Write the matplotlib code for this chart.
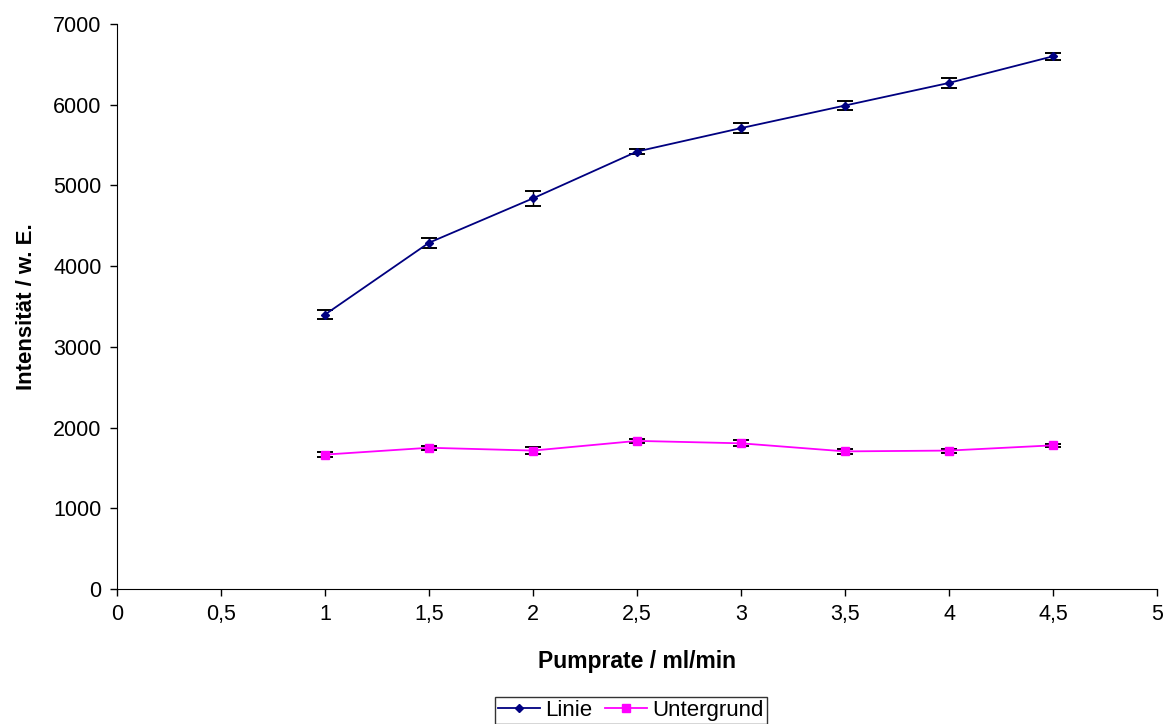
import matplotlib
matplotlib.use("Agg")
import matplotlib.pyplot as plt
from matplotlib.lines import Line2D

plt.rcParams['font.family'] = ['Liberation Sans', 'DejaVu Sans']

pumprate = [1, 1.5, 2, 2.5, 3, 3.5, 4, 4.5]
linie = [3400, 4290, 4840, 5420, 5710, 5990, 6270, 6600]
linie_err = [60, 60, 90, 30, 65, 60, 60, 40]
untergrund = [1665, 1750, 1715, 1835, 1805, 1705, 1715, 1780]
untergrund_err = [35, 25, 45, 25, 35, 30, 25, 20]

xticks = [0, 0.5, 1, 1.5, 2, 2.5, 3, 3.5, 4, 4.5, 5]
xtick_labels = ["0", "0,5", "1", "1,5", "2", "2,5", "3", "3,5", "4", "4,5", "5"]
yticks = [0, 1000, 2000, 3000, 4000, 5000, 6000, 7000]

blue = "#000080"
pink = "#FF00FF"

fig = plt.figure(figsize=(11.7, 7.24), dpi=100)
ax = fig.add_axes([117/1170, 1 - 589/724, 1040/1170, 565/724])

ax.errorbar(pumprate, linie, yerr=linie_err, color=blue, marker="D", markersize=4.5,
            linewidth=1.3, ecolor="black", elinewidth=1, capsize=5.5, capthick=1.4)
ax.errorbar(pumprate, untergrund, yerr=untergrund_err, color=pink, marker="s", markersize=5.5,
            linewidth=1.3, ecolor="black", elinewidth=1, capsize=5.5, capthick=1.4)

ax.set_xlim(0, 5)
ax.set_ylim(0, 7000)
ax.set_xticks(xticks)
ax.set_xticklabels(xtick_labels)
ax.set_yticks(yticks)
ax.tick_params(labelsize=15.5, direction="out", length=5, width=1, pad=6)
ax.spines['top'].set_visible(False)
ax.spines['right'].set_visible(False)

ax.set_xlabel("Pumprate / ml/min", fontsize=16.5, fontweight="bold", labelpad=18)
ax.set_ylabel("Intensität / w. E.", fontsize=16, fontweight="bold", labelpad=12)

handles = [Line2D([], [], color=blue, marker="D", markersize=4.5, linewidth=1.3),
           Line2D([], [], color=pink, marker="s", markersize=5.5, linewidth=1.3)]
leg = fig.legend(handles, ["Linie", "Untergrund"], loc="lower center",
                 bbox_to_anchor=(0.539, -0.016), ncol=2,
                 fontsize=16, frameon=True, fancybox=False, edgecolor="black",
                 handlelength=1.9, handletextpad=0.2, columnspacing=0.6, borderpad=0.15)
leg.get_frame().set_linewidth(1)

fig.savefig("out.png", dpi=100)
